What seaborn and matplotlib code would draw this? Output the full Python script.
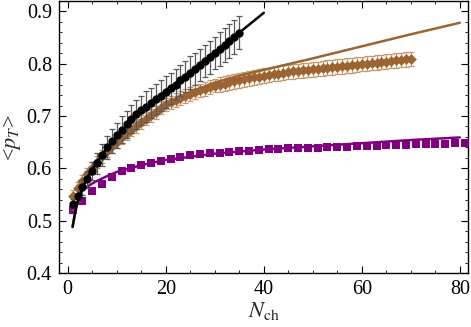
import numpy as np
import pandas as pd
import matplotlib
matplotlib.use("Agg")
import matplotlib.pyplot as plt
import seaborn as sns
from matplotlib.ticker import MultipleLocator

# ---------------- data ----------------
black_n = list(range(1, 36))
black_y = [0.531, 0.548, 0.564, 0.579, 0.595, 0.610, 0.626, 0.640, 0.652, 0.663,
           0.674, 0.684, 0.694, 0.703, 0.711, 0.718, 0.725, 0.732, 0.739, 0.746,
           0.753, 0.760, 0.768, 0.775, 0.783, 0.790, 0.797, 0.805, 0.812, 0.820,
           0.828, 0.836, 0.843, 0.851, 0.859]
black_err = [0.010, 0.012, 0.014, 0.016, 0.018, 0.020, 0.021, 0.022, 0.023, 0.024,
             0.025, 0.026, 0.027, 0.028, 0.028, 0.029, 0.029, 0.029, 0.030, 0.030,
             0.030, 0.030, 0.030, 0.030, 0.031, 0.031, 0.031, 0.031, 0.031, 0.031,
             0.032, 0.032, 0.032, 0.032, 0.032]

brown_n = list(range(1, 71))
brown_y = [0.547, 0.562, 0.576, 0.589, 0.601, 0.612, 0.623, 0.633, 0.642, 0.651,
           0.659, 0.667, 0.674, 0.681, 0.688, 0.695, 0.701, 0.707, 0.716, 0.722,
           0.726, 0.730, 0.734, 0.738, 0.742, 0.746, 0.749, 0.752, 0.755, 0.758,
           0.760, 0.762, 0.764, 0.766, 0.768, 0.770, 0.772, 0.774, 0.775, 0.777,
           0.778, 0.780, 0.781, 0.783, 0.784, 0.785, 0.786, 0.787, 0.788, 0.789,
           0.790, 0.791, 0.792, 0.793, 0.794, 0.795, 0.796, 0.797, 0.798, 0.799,
           0.800, 0.801, 0.802, 0.803, 0.804, 0.805, 0.806, 0.807, 0.808, 0.809]
brown_err = [0.012] * 10 + [0.013] * 20 + [0.014] * 40

purple_n = list(range(1, 82, 2))
purple_y = [0.520, 0.537, 0.557, 0.571, 0.583, 0.594, 0.600, 0.606, 0.611, 0.614,
            0.618, 0.622, 0.625, 0.627, 0.629, 0.630, 0.632, 0.633, 0.634, 0.635,
            0.636, 0.637, 0.638, 0.638, 0.639, 0.639, 0.640, 0.641, 0.641, 0.642,
            0.643, 0.643, 0.644, 0.644, 0.645, 0.646, 0.646, 0.647, 0.647, 0.648,
            0.649]
purple_err = [0.005] * 41

black_fit_n = [1, 1.5, 2, 3, 4, 5, 6, 8, 10, 12, 15, 20, 25, 30, 35, 40]
black_fit_y = [0.488, 0.515, 0.535, 0.562, 0.582, 0.598, 0.612, 0.638, 0.661, 0.682,
               0.710, 0.748, 0.784, 0.822, 0.859, 0.897]

brown_fit_n = [1, 1.5, 2, 3, 4, 5, 6, 8, 10, 12, 15, 20, 25, 30, 35, 40, 50, 60, 70, 80]
brown_fit_y = [0.488, 0.515, 0.537, 0.565, 0.585, 0.602, 0.615, 0.638, 0.656, 0.670,
               0.690, 0.722, 0.745, 0.764, 0.777, 0.788, 0.810, 0.833, 0.856, 0.878]

purple_fit_n = [1.6, 2, 3, 4, 5, 6, 8, 10, 15, 20, 30, 40, 50, 60, 70, 80]
purple_fit_y = [0.545, 0.550, 0.559, 0.565, 0.571, 0.576, 0.585, 0.593, 0.606, 0.616,
                0.628, 0.636, 0.642, 0.648, 0.654, 0.659]

x_ticks = [0, 20, 40, 60, 80]
y_ticks = [0.4, 0.5, 0.6, 0.7, 0.8, 0.9]

# ---------------- style ----------------
sns.set_theme(style="ticks")
plt.rcParams['font.family'] = ['Liberation Serif', 'DejaVu Serif']
plt.rcParams['mathtext.fontset'] = 'stix'

BLACK = "#000000"
BROWN = "#9C6430"
BROWN_ERR = "#C49A6C"
PURPLE = "#800080"
PURPLE_ERR = "#C080C0"
GRAY = "#5A5A5A"

fig = plt.figure(figsize=(4.71, 3.27), dpi=100)
ax = fig.add_axes([0.125, 0.165, 0.869, 0.831])

# error bars
ax.errorbar(brown_n, brown_y, yerr=brown_err, fmt='none', ecolor=BROWN_ERR,
            elinewidth=0.9, capsize=2.2, capthick=0.9, zorder=2)
ax.errorbar(purple_n, purple_y, yerr=purple_err, fmt='none', ecolor=PURPLE_ERR,
            elinewidth=0.9, capsize=2.2, capthick=0.9, zorder=2)
ax.errorbar(black_n, black_y, yerr=black_err, fmt='none', ecolor=GRAY,
            elinewidth=0.9, capsize=2.2, capthick=0.9, zorder=4)

# points
sns.scatterplot(x=purple_n, y=purple_y, marker='s', s=28, color=PURPLE,
                edgecolor=PURPLE, linewidth=0, ax=ax, zorder=3)
sns.scatterplot(x=brown_n, y=brown_y, marker='D', s=30, color=BROWN,
                edgecolor=BROWN, linewidth=0, ax=ax, zorder=3)
sns.scatterplot(x=black_n, y=black_y, marker='o', s=36, color=BLACK,
                edgecolor=BLACK, linewidth=0, ax=ax, zorder=5)

# fit curves
sns.lineplot(x=purple_fit_n, y=purple_fit_y, color=PURPLE, linewidth=1.8, ax=ax, zorder=3.5)
sns.lineplot(x=brown_fit_n, y=brown_fit_y, color=BROWN, linewidth=1.8, ax=ax, zorder=3.5)
sns.lineplot(x=black_fit_n, y=black_fit_y, color=BLACK, linewidth=1.8, ax=ax, zorder=6)

ax.set_xlim(-1.8, 81.7)
ax.set_ylim(0.4, 0.919)
ax.set_xticks(x_ticks)
ax.set_yticks(y_ticks)
ax.set_xticklabels([str(v) for v in x_ticks])
ax.set_yticklabels([f"{v:.1f}" for v in y_ticks])
ax.xaxis.set_minor_locator(MultipleLocator(5))
ax.yaxis.set_minor_locator(MultipleLocator(0.02))
ax.tick_params(which='both', direction='in', top=True, right=True, colors='black',
               labelsize=14.5, pad=5)
ax.tick_params(which='major', length=5, width=0.8)
ax.tick_params(which='minor', length=2.5, width=0.6)
for sp in ax.spines.values():
    sp.set_visible(True)
    sp.set_linewidth(1.0)
    sp.set_color('black')

ax.set_xlabel(r'$N_{\rm ch}$', fontsize=16, labelpad=1)
ax.set_ylabel(r'<$p_T$>', fontsize=16, labelpad=3)

fig.savefig("out.png", dpi=100)
